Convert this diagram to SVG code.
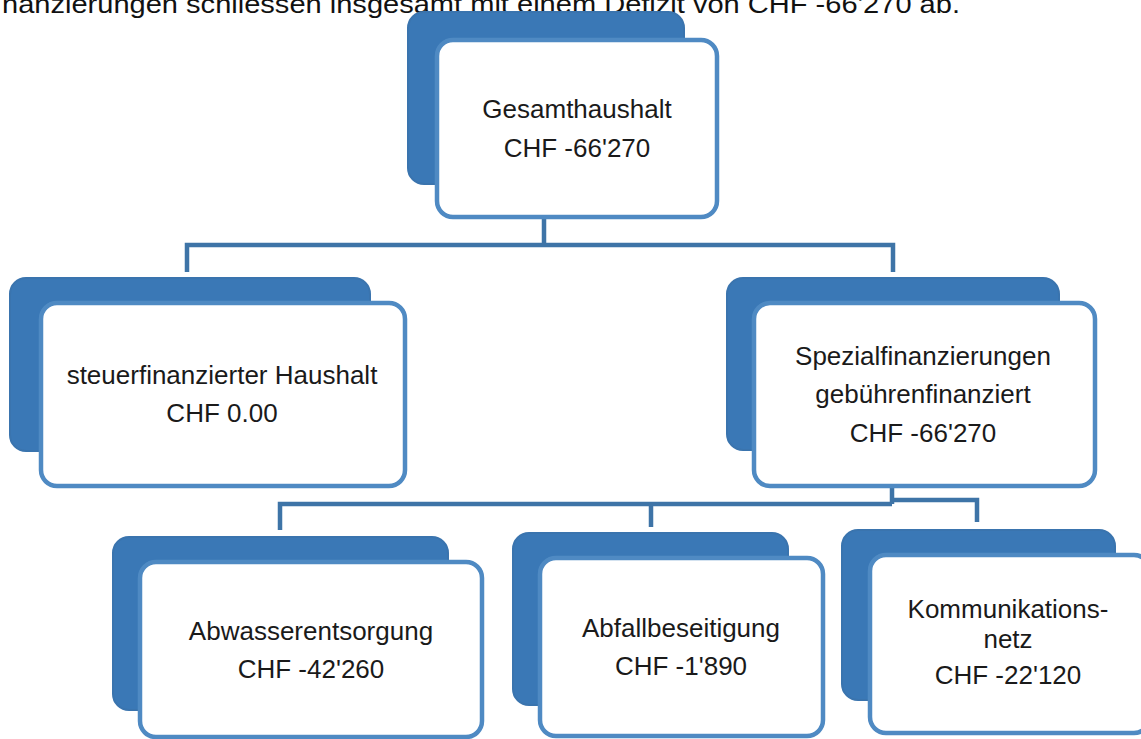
<svg xmlns="http://www.w3.org/2000/svg" width="1141" height="739" viewBox="0 0 1141 739">
<style>
.back{fill:#3a78b6;stroke:#3a74ae;stroke-width:2}
.front{fill:#ffffff;stroke:#4f8ac3;stroke-width:4.5}
.conn{fill:none;stroke:#3e74a7;stroke-width:4.5;stroke-linejoin:miter}
.t{font-family:"Liberation Sans",Arial,sans-serif;font-size:26px;fill:#1a1a1a;text-anchor:middle}
.hdr{font-family:"Liberation Sans",Arial,sans-serif;font-size:26px;fill:#111111}
</style>
<rect width="1141" height="739" fill="#ffffff"/>
<text class="hdr" x="2" y="13" textLength="958" lengthAdjust="spacingAndGlyphs">nanzierungen schliessen insgesamt mit einem Defizit von CHF -66'270 ab.</text>
<g id="connectors">
<path class="conn" d="M544 217 V245 M187 272 V245 H893 V272"/>
<path class="conn" d="M892 486 V504 M280 530 V504 H892 M651 527 V504 M892 500 H977 V522"/>
</g>
<g id="gesamthaushalt">
<rect class="back" x="408" y="12" width="276" height="172" rx="16"/>
<rect class="front" x="437" y="40" width="280" height="177" rx="16"/>
<text class="t" x="577" y="118">Gesamthaushalt</text>
<text class="t" x="577" y="157">CHF -66'270</text>
</g>
<g id="steuerfinanziert">
<rect class="back" x="10" y="278" width="360" height="173" rx="16"/>
<rect class="front" x="41" y="303" width="364" height="183" rx="16"/>
<text class="t" x="222" y="384">steuerfinanzierter Haushalt</text>
<text class="t" x="222" y="422">CHF 0.00</text>
</g>
<g id="spezialfinanzierungen">
<rect class="back" x="727" y="278" width="332" height="172" rx="16"/>
<rect class="front" x="754" y="303" width="341" height="183" rx="16"/>
<text class="t" x="923" y="365">Spezialfinanzierungen</text>
<text class="t" x="923" y="403">gebührenfinanziert</text>
<text class="t" x="923" y="442">CHF -66'270</text>
</g>
<g id="abwasserentsorgung">
<rect class="back" x="113" y="537" width="335" height="173" rx="16"/>
<rect class="front" x="140" y="562" width="342" height="175" rx="16"/>
<text class="t" x="311" y="640">Abwasserentsorgung</text>
<text class="t" x="311" y="678">CHF -42'260</text>
</g>
<g id="abfallbeseitigung">
<rect class="back" x="513" y="533" width="275" height="172" rx="16"/>
<rect class="front" x="540" y="558" width="283" height="178" rx="16"/>
<text class="t" x="681" y="637">Abfallbeseitigung</text>
<text class="t" x="681" y="675">CHF -1'890</text>
</g>
<g id="kommunikationsnetz">
<rect class="back" x="842" y="530" width="273" height="170" rx="16"/>
<rect class="front" x="870" y="555" width="280" height="178" rx="16"/>
<text class="t" x="1008" y="618">Kommunikations-</text>
<text class="t" x="1008" y="648">netz</text>
<text class="t" x="1008" y="684">CHF -22'120</text>
</g>
</svg>
